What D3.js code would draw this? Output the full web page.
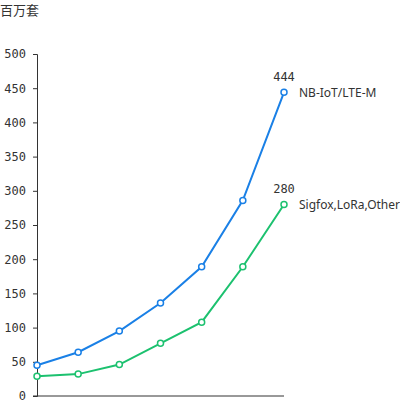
<!DOCTYPE html>
<html>
<head>
<meta charset="utf-8">
<script src="https://d3js.org/d3.v7.min.js"></script>
<style>
body { margin: 0; background: #fff; }
</style>
</head>
<body>
<script>
var years = ['1', '2', '3', '4', '5', '6', '7'];
var nbiot = [45, 64, 95, 136, 189, 286, 444];
var other = [29, 32, 46, 77, 108, 189, 280];
var seriesNames = ['NB-IoT/LTE-M', 'Sigfox,LoRa,Other'];
var seriesColors = ['#1a80e6', '#1cc16f'];
var yTicks = [0, 50, 100, 150, 200, 250, 300, 350, 400, 450, 500];

var width = 400, height = 400;
var svg = d3.select('body').append('svg')
    .attr('width', width)
    .attr('height', height);

var x = d3.scalePoint().domain(years).range([37, 284]);
var y = d3.scaleLinear().domain([0, 500]).range([396, 54]);

svg.append('text')
    .attr('x', 0)
    .attr('y', 15)
    .style('font-family', 'Noto Sans CJK SC')
    .style('font-size', '13px')
    .style('fill', '#333')
    .text('百万套');

var yAxis = svg.append('g')
    .attr('transform', 'translate(37,0)')
    .call(d3.axisLeft(y).tickValues(yTicks).tickSize(4).tickPadding(7));
yAxis.selectAll('text')
    .style('font-family', 'DejaVu Sans Mono')
    .style('font-size', '12px')
    .style('fill', '#333');
yAxis.selectAll('line, path').attr('stroke', '#333');

svg.append('line')
    .attr('x1', 33).attr('x2', 284)
    .attr('y1', y(0)).attr('y2', y(0))
    .attr('stroke', '#333');

var series = [nbiot, other];
var line = d3.line()
    .x(function(d, i) { return x(years[i]); })
    .y(function(d) { return y(d); });

series.forEach(function(vals, s) {
    var g = svg.append('g');
    g.append('path')
        .attr('d', line(vals))
        .attr('fill', 'none')
        .attr('stroke', seriesColors[s])
        .attr('stroke-width', 2);
    g.selectAll('circle')
        .data(vals)
        .enter()
        .append('circle')
        .attr('cx', function(d, i) { return x(years[i]); })
        .attr('cy', function(d) { return y(d); })
        .attr('r', 3)
        .attr('fill', '#fff')
        .attr('stroke', seriesColors[s])
        .attr('stroke-width', 1.5);
    var last = vals[vals.length - 1];
    var lx = x(years[years.length - 1]);
    g.append('text')
        .attr('x', lx)
        .attr('y', y(last) - 11)
        .attr('text-anchor', 'middle')
        .style('font-family', 'DejaVu Sans Mono')
        .style('font-size', '12px')
        .style('fill', '#333')
        .text(last);
    g.append('text')
        .attr('x', lx + 15)
        .attr('y', y(last))
        .attr('dy', '0.35em')
        .style('font-family', 'Noto Sans')
        .style('font-size', '12px')
        .style('fill', '#333')
        .text(seriesNames[s]);
});
</script>
</body>
</html>
